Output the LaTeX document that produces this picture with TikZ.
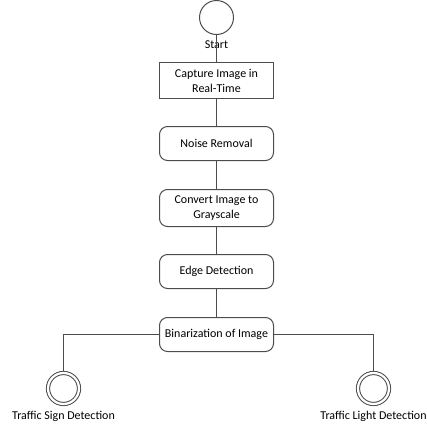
\documentclass[tikz,border=0pt]{standalone}
\usepackage{fontspec}
\setmainfont{Carlito}
\usetikzlibrary{calc,shapes,arrows}
\tikzset{
   activity/.style={draw=black!70, rounded corners=8pt, minimum width=114pt, minimum height=34pt,
                    align=center, inner sep=2pt},
   capture/.style={activity, rounded corners=0pt, minimum height=36pt},
   initial/.style={draw=black!70, circle, minimum size=34pt, inner sep=0pt},
   final/.style={draw=black!70, circle, double, double distance=2.2pt, minimum size=31pt,
                 inner sep=0pt, outer sep=1.8pt}
}

\begin{document}
\begin{tikzpicture}[line width=1pt,
                    font=\fontsize{12}{15}\selectfont]
\useasboundingbox (0pt,0pt) rectangle (427pt,-429pt);
\node[initial] (0) at (216.5pt, -17.5pt)                  {};
\node          (s) at ($ (0) + (0pt, -27pt) $)            {Start};
\node[capture] (1) at (216.5pt, -80.5pt)                  {Capture Image in\\Real-Time};
\node[activity] (2) at ($ (1) + (0pt, -63pt) $)           {Noise Removal};
\node[activity,minimum height=37pt] (3) at ($ (2) + (0pt, -64.5pt) $) {Convert Image to\\Grayscale};
\node[activity] (4) at ($ (3) + (0pt, -63.5pt) $)         {Edge Detection};
\node[activity] (5) at ($ (4) + (0pt, -63pt) $)           {Binarization of Image};
\node[final]   (6) at (63.5pt, -388.5pt)                  {};
\node[final]   (7) at (373.5pt, -388.5pt)                 {};
\node          (a) at ($ (6) + (0pt, -28pt) $)            {Traffic Sign Detection};
\node          (b) at ($ (7) + (0pt, -28pt) $)            {Traffic Light Detection};
%
\path[draw=black!70]
  (0) edge (1)
  (1) edge (2)
  (2) edge (3)
  (3) edge (4)
  (4) edge (5)
  ;
\draw[black!70] (5.west) -| (6);
\draw[black!70] (5.east) -| (7);
\end{tikzpicture}
\end{document}
